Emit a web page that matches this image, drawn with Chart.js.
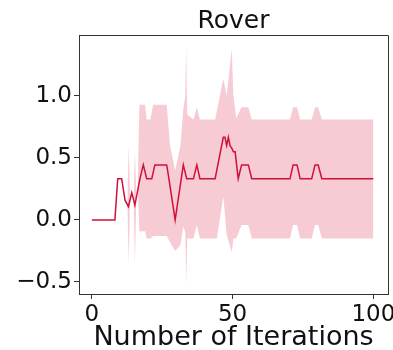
<!DOCTYPE html>
<html>
<head>
<meta charset="utf-8">
<script src="https://cdn.jsdelivr.net/npm/chart.js@4/dist/chart.umd.min.js"></script>
<style>
  html, body { margin: 0; padding: 0; background: #fff; }
  #wrap { width: 393px; height: 350px; }
</style>
</head>
<body>
<div id="wrap"><canvas id="c" width="393" height="350"></canvas></div>
<script>
// ---- data ----
const titleText = "Rover";
const xLabel = "Number of Iterations";
const xTicks = [0, 50, 100];
const yTicks = [-0.5, 0.0, 0.5, 1.0];

// mean curve (iteration, value)
const meanX = [0, 8.2, 9.2, 10.6, 11.8, 13.0, 14.2, 15.3, 17.1, 18.3, 19.5, 21.3, 22.4, 26.6, 27.2, 29.6,
  32.5, 33.7, 36.1, 37.3, 38.4, 43.8, 46.7, 47.3, 47.9, 48.5, 49.1, 49.7, 50.3, 50.9, 52.0, 53.2, 55.6, 56.8,
  70.4, 71.5, 72.9, 74.0, 78.1, 79.3, 80.4, 81.7, 100];
const meanY = [0, 0, 0.333, 0.333, 0.16, 0.107, 0.22, 0.12, 0.333, 0.444, 0.333, 0.333, 0.444, 0.444, 0.36, 0.0,
  0.444, 0.333, 0.333, 0.444, 0.333, 0.333, 0.667, 0.667, 0.6, 0.667, 0.6, 0.58, 0.55, 0.55, 0.333, 0.444, 0.444, 0.333,
  0.333, 0.444, 0.444, 0.333, 0.333, 0.444, 0.444, 0.333, 0.333];

// shaded band (iteration, upper edge, lower edge)
const bandX = [12.6, 13.1, 13.6, 14.9, 15.3, 15.8, 16.3, 16.9, 18.9, 19.5, 20.8, 21.8, 26.6, 27.8, 29.6, 31.5,
  32.5, 33.2, 33.5, 33.9, 36.1, 37.3, 38.4, 43.8, 44.4, 46.7, 47.9, 49.7, 50.3, 51.3, 53.2, 55.6, 56.8,
  70.4, 71.5, 72.9, 74.0, 78.1, 79.3, 80.4, 81.7, 100];
const bandUpper = [0.12, 0.6, 0.18, 0.17, 0.56, 0.2, 0.28, 0.93, 0.93, 0.81, 0.81, 0.93, 0.93, 0.6, 0.4, 0.6,
  0.9, 1.0, 1.40, 0.85, 0.81, 0.91, 0.81, 0.81, 0.88, 1.14, 1.0, 1.38, 1.0, 0.82, 0.91, 0.91, 0.81,
  0.81, 0.91, 0.91, 0.81, 0.81, 0.91, 0.91, 0.81, 0.81];
const bandLower = [0.12, -0.34, 0.18, 0.17, -0.37, 0.2, 0.28, -0.09, -0.09, -0.15, -0.15, -0.13, -0.13, -0.18, -0.25, -0.2,
  -0.05, -0.1, -0.52, -0.15, -0.15, -0.04, -0.15, -0.15, -0.15, 0.19, -0.12, -0.26, -0.15, -0.15, -0.04, -0.04, -0.15,
  -0.15, -0.04, -0.04, -0.15, -0.15, -0.04, -0.04, -0.15, -0.15];

const pts = (xs, ys) => xs.map((x, i) => ({ x: x, y: ys[i] }));

const FONT = "'DejaVu Sans', sans-serif";
const AX = '#333333';

const frame = {
  id: 'frame',
  afterDatasetsDraw(chart) {
    const a = chart.chartArea, ctx = chart.ctx;
    ctx.save();
    ctx.strokeStyle = AX;
    ctx.lineWidth = 1;
    ctx.beginPath();
    ctx.moveTo(a.left, a.top + 0.5);
    ctx.lineTo(a.right + 0.5, a.top + 0.5);
    ctx.lineTo(a.right + 0.5, a.bottom);
    ctx.stroke();
    ctx.restore();
  }
};

new Chart(document.getElementById('c'), {
  type: 'line',
  data: {
    datasets: [
      { label: 'mean', data: pts(meanX, meanY), borderColor: '#d0103a', borderWidth: 1.5,
        pointRadius: 0, tension: 0, fill: false },
      { label: 'upper', data: pts(bandX, bandUpper), borderWidth: 0, borderColor: 'rgba(0,0,0,0)',
        backgroundColor: 'rgba(220,20,60,0.22)', pointRadius: 0, tension: 0, fill: '+1' },
      { label: 'lower', data: pts(bandX, bandLower), borderWidth: 0, borderColor: 'rgba(0,0,0,0)',
        pointRadius: 0, tension: 0, fill: false }
    ]
  },
  options: {
    responsive: false,
    animation: false,
    devicePixelRatio: 1,
    layout: { padding: { left: 0, right: 5, top: 0, bottom: 0 } },
    plugins: {
      legend: { display: false },
      tooltip: { enabled: false },
      title: {
        display: true, text: titleText, fullSize: false, color: '#111',
        font: { family: FONT, size: 25, weight: 'normal', lineHeight: 1.12 },
        padding: { top: 7, bottom: 0 }
      }
    },
    scales: {
      x: {
        type: 'linear', min: -4.55, max: 105.2,
        afterBuildTicks: (s) => { s.ticks = xTicks.map(v => ({ value: v })); },
        afterFit: (s) => { s.height = 56; s.paddingLeft = 0; s.paddingRight = 0; },
        ticks: { color: '#111', font: { family: FONT, size: 23 }, padding: 2, maxRotation: 0,
          callback: (v) => String(v) },
        grid: { display: true, drawOnChartArea: false, drawTicks: true, tickLength: 5, color: AX },
        border: { display: true, color: AX, width: 1 },
        title: { display: true, text: xLabel, color: '#111',
          font: { family: FONT, size: 27, lineHeight: 0.9 }, padding: { top: 0, bottom: 0 } }
      },
      y: {
        type: 'linear', min: -0.597, max: 1.492,
        afterBuildTicks: (s) => { s.ticks = yTicks.map(v => ({ value: v })); },
        afterFit: (s) => { s.width = 79; s.paddingTop = 0; s.paddingBottom = 0; },
        ticks: { color: '#111', font: { family: FONT, size: 23 }, padding: 2,
          callback: (v) => (v < 0 ? '\u2212' : '') + Math.abs(v).toFixed(1) },
        grid: { display: true, drawOnChartArea: false, drawTicks: true, tickLength: 5, color: AX },
        border: { display: true, color: AX, width: 1 }
      }
    }
  },
  plugins: [frame]
});
</script>
</body>
</html>
